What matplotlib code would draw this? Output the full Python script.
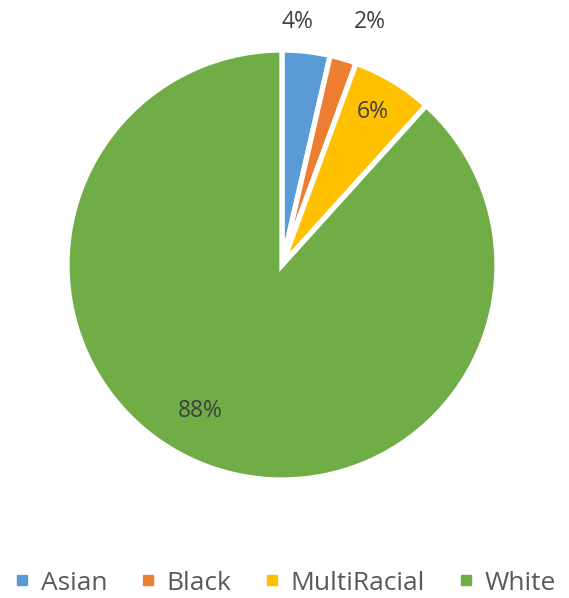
import matplotlib.pyplot as plt
from matplotlib.lines import Line2D

groups = ["Asian", "Black", "MultiRacial", "White"]
shares = [3.6, 2.0, 6.1, 88.3]
pct_labels = ["4%", "2%", "6%", "88%"]
colors = ["#5B9BD5", "#ED7D31", "#FFC000", "#70AD47"]

# label placement (x, y in pie radius units)
label_pos = [(0.07, 1.13), (0.41, 1.13), (0.42, 0.71), (-0.38, -0.68)]

plt.rcParams["font.family"] = ["Open Sans", "DejaVu Sans"]

fig = plt.figure(figsize=(5.69, 5.98), dpi=100)
ax = fig.add_axes([67 / 569, 118 / 598, 430 / 569, 430 / 598])

wedges, _ = ax.pie(
    shares,
    colors=colors,
    startangle=90,
    counterclock=False,
    radius=1,
    wedgeprops=dict(edgecolor="white", linewidth=3.8),
)
ax.set_xlim(-1, 1)
ax.set_ylim(-1, 1)
ax.set_aspect("auto")
ax.axis("off")

for text, (x, y) in zip(pct_labels, label_pos):
    ax.text(x, y, text, ha="center", va="center", fontsize=16.5, color="#404040",
            clip_on=False)

handles = [
    Line2D([], [], marker="s", linestyle="none", markersize=7,
           markerfacecolor=c, markeredgecolor=c)
    for c in colors
]
fig.legend(
    handles, groups, loc="center", bbox_to_anchor=(0.5, 1 - 583 / 598),
    ncol=4, frameon=False, fontsize=19, handlelength=0.7, handletextpad=0.35,
    columnspacing=1.2, labelcolor="#595959",
)

fig.savefig("out.png", dpi=100)
